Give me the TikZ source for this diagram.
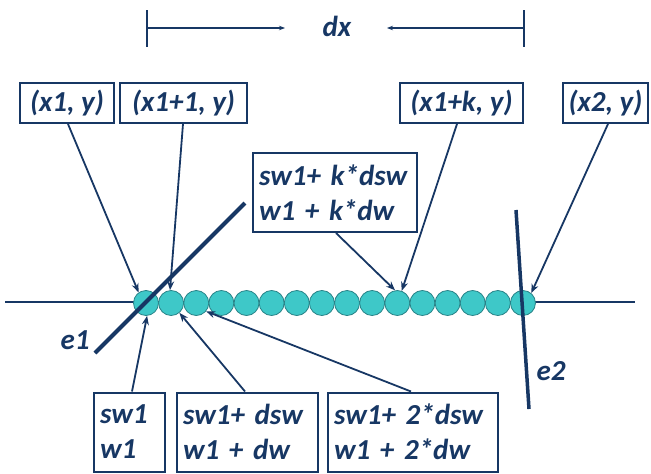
\documentclass[tikz,border=0pt]{standalone}
\usepackage{fontspec}
\setmainfont{Carlito}
\usetikzlibrary{arrows.meta,calc}
\definecolor{navy}{RGB}{23,55,100}
\definecolor{bead}{RGB}{62,200,200}
\definecolor{beadrim}{RGB}{40,130,135}
\tikzset{
  lbl/.style={font=\fontsize{29}{35}\selectfont\bfseries\itshape, text=navy},
  tagbox/.style={lbl, draw=navy, line width=2pt, rectangle, inner sep=0pt,
    minimum height=40pt, align=center},
  valbox/.style={lbl, draw=navy, line width=2pt, rectangle, inner xsep=6pt,
    inner ysep=0pt, minimum height=79pt, align=left, anchor=west},
  pointer/.style={navy, line width=1.8pt, -{Stealth[length=9pt,width=7pt]}},
  beadnode/.style={circle, draw=beadrim, line width=0.8pt, fill=bead,
    minimum size=25pt, inner sep=0pt},
  edgeline/.style={navy, line cap=butt},
  dimline/.style={navy, line width=1.6pt}
}
\begin{document}
\begin{tikzpicture}[x=1pt,y=-1pt]
\useasboundingbox (0,0) rectangle (651,474);

% dimension bar
\coordinate (dl) at (147,28);
\coordinate (dr) at (524,28);
\draw[dimline] (147,10) -- (147,47);
\draw[dimline] (524,10) -- (524,47);
\node[lbl] (dx) at (337,26) {dx};
\draw[dimline, -{Stealth[length=6pt,width=4.5pt]}] (dl) -- (285,28);
\draw[dimline, -{Stealth[length=6pt,width=4.5pt]}] (dr) -- (387,28);

% axis line
\draw[navy, line width=1.3pt] (5,302) -- (635,302);

% beads
\foreach \i in {1,...,16} {
  \node[beadnode] (c\i) at ({146+25.13*(\i-1)},303) {};
}

% boundary lines
\draw[edgeline, line width=4pt] (245,203) -- (95,353);
\draw[edgeline, line width=3.5pt] (516,210) -- (529,409);
\node[lbl] (e1) at (75,340) {e1};
\node[lbl] (e2) at (551,371) {e2};

% coordinate tags
\node[tagbox, minimum width=94pt] (t1) at (67,103) {(x1, y)};
\node[tagbox, minimum width=127pt] (t2) at (183.5,103) {(x1+1, y)};
\node[tagbox, minimum width=123pt] (tk) at (461.5,103) {(x1+k, y)};
\node[tagbox, minimum width=85pt] (t3) at (605.5,103) {(x2, y)};

% width boxes
\node[valbox, text width=152pt] (vk) at (252,192.5) {sw1+ k*dsw\\w1 + k*dw};
\node[valbox, text width=59pt] (v1) at (93,432) {sw1\\w1};
\node[valbox, text width=129pt] (v2) at (176,432) {sw1+ dsw\\w1 + dw};
\node[valbox, text width=158pt] (v3) at (327,432) {sw1+ 2*dsw\\w1 + 2*dw};

% pointers
\draw[pointer] ([xshift=1pt]t1.south) -- (c1.125);
\draw[pointer] ([xshift=-0.5pt]t2.south) -- (c2.95);
\draw[pointer] ([xshift=-4.5pt]tk.south) -- (c11.70);
\draw[pointer] ([xshift=2.5pt]t3.south) -- (c16.50);
\draw[pointer] ([xshift=1pt]vk.south) -- (c11.100);
\draw[pointer] ([xshift=2.5pt]v1.north) -- (c1.-85);
\draw[pointer] ([xshift=-2.5pt]v2.north) -- (c2.-50);
\draw[pointer] ([xshift=-2pt]v3.north) -- (c3.-40);
\end{tikzpicture}
\end{document}
